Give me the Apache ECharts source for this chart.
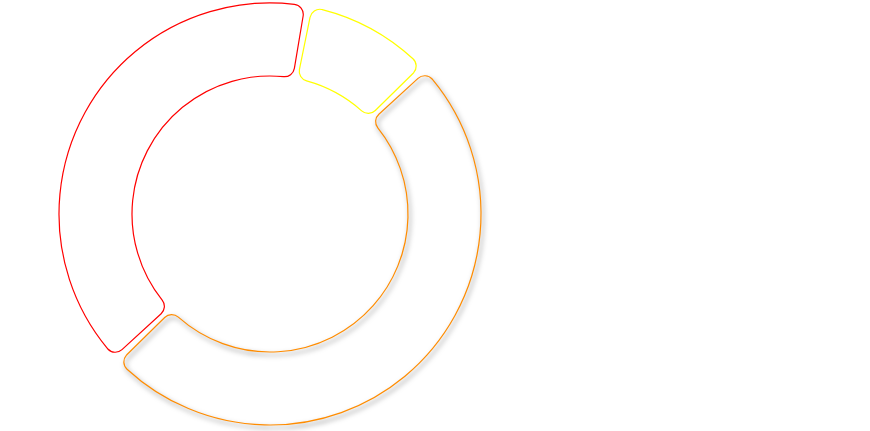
<!DOCTYPE html>
<html>
<head>
<meta charset="utf-8">
<script src="https://cdn.jsdelivr.net/npm/echarts@6/dist/echarts.min.js"></script>
<style>html,body{margin:0;padding:0;background:#fff;}#c{width:870px;height:431px;}</style>
</head>
<body>
<div id="c"></div>
<script>
const names = ['A', 'B', 'C'];
const values = [40, 10, 50];
const borderColors = ['#ff0000', '#ffff00', '#ff8c00'];
const shadowed = [false, false, true];

const chart = echarts.init(document.getElementById('c'), null, {renderer: 'canvas'});
chart.setOption({
  animation: false,
  series: [{
    type: 'pie',
    center: [270, 214],
    radius: [138, 211],
    startAngle: 223.5,
    padAngle: 2,
    label: {show: false},
    labelLine: {show: false},
    data: names.map((n, i) => ({
      name: n,
      value: values[i],
      itemStyle: Object.assign({
        color: 'transparent',
        borderColor: borderColors[i],
        borderWidth: 1.2,
        borderRadius: 10
      }, shadowed[i] ? {
        shadowBlur: 5,
        shadowColor: 'rgba(0,0,0,0.55)',
        shadowOffsetX: 2,
        shadowOffsetY: 3
      } : {})
    }))
  }]
});
</script>
</body>
</html>
